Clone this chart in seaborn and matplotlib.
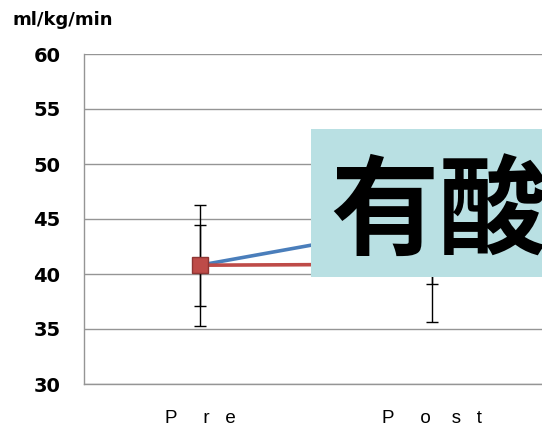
import matplotlib
matplotlib.use("Agg")
import matplotlib.pyplot as plt
from matplotlib.patches import Rectangle
from matplotlib.ticker import FixedLocator
import pandas as pd
import seaborn as sns

# Measurement phases and their display labels
phases = ["Pre", "Post"]
phase_labels = ["P     r   e", "P     o    s   t"]
y_ticks = [30, 35, 40, 45, 50, 55, 60]

# VO2 (ml/kg/min): mean and SD per group
aerobic_mean = [40.8, 44.6]
aerobic_sd = [3.7, 5.5]
control_mean = [40.8, 40.9]
control_sd = [5.5, 5.25]

groups = ["aerobic", "control"]
colors = {"aerobic": "#4A7EBB", "control": "#BE4B48"}
edge_colors = {"aerobic": "#2E5A8C", "control": "#8E3533"}
marker_sizes = {"aerobic": 8, "control": 11}

df = pd.DataFrame({
    "pos": list(range(len(phases))) * 2,
    "phase": phases * 2,
    "group": [groups[0]] * len(phases) + [groups[1]] * len(phases),
    "value": aerobic_mean + control_mean,
    "sd": aerobic_sd + control_sd,
})

sns.set_style("white")
plt.rcParams["font.family"] = ["DejaVu Sans"]
plt.rcParams["text.color"] = "black"
plt.rcParams["xtick.color"] = "black"
plt.rcParams["ytick.color"] = "black"

W, H = 542, 432
fig = plt.figure(figsize=(W / 100, H / 100), dpi=100)
ax = fig.add_axes([84 / W, 1 - 384 / H, (548 - 84) / W, (384 - 54) / H])

grid_gray = "#959595"

sns.lineplot(data=df, x="pos", y="value", hue="group", style="group",
             hue_order=groups, style_order=groups, palette=colors,
             markers={"aerobic": "D", "control": "s"}, dashes=False,
             linewidth=2.6, markersize=11, markeredgewidth=1.0,
             legend=False, ax=ax)
for i, (line, g) in enumerate(zip(list(ax.lines), groups)):
    line.set_markerfacecolor(colors[g])
    line.set_markeredgecolor(edge_colors[g])
    line.set_markersize(marker_sizes[g])
    line.set_zorder(5 + i)

# SD error bars, drawn beneath the markers
for g in groups:
    sub = df[df["group"] == g]
    ax.errorbar(sub["pos"], sub["value"], yerr=sub["sd"], fmt="none",
                ecolor="black", elinewidth=1.0, capsize=4, capthick=1.0, zorder=3)

ax.set_xlim(-0.5, 1.5)
ax.set_ylim(30, 60)
ax.set_yticks(y_ticks, labels=[str(v) for v in y_ticks],
              fontweight="bold", fontsize=14)
ax.set_xticks(range(len(phases)), labels=phase_labels,
              fontfamily="Liberation Sans", fontsize=13.5)
ax.xaxis.set_minor_locator(FixedLocator([-0.5, 0.5, 1.5]))
ax.set_xlabel("")
ax.set_ylabel("")

ax.grid(axis="y", color=grid_gray, linewidth=1.0)
ax.grid(axis="x", visible=False)
ax.set_axisbelow(True)
for side in ["top", "right"]:
    ax.spines[side].set_visible(False)
for side in ["left", "bottom"]:
    ax.spines[side].set_color(grid_gray)
    ax.spines[side].set_linewidth(1.0)

ax.tick_params(axis="y", which="major", direction="out", length=6, width=0.8,
               color=grid_gray, labelcolor="black", pad=11)
ax.tick_params(axis="x", which="major", length=0, pad=19, labelcolor="black")
ax.tick_params(axis="x", which="minor", direction="out", length=6, width=0.8,
               color=grid_gray)

fig.text(12 / W, 1 - 20 / H, "ml/kg/min", fontsize=13, fontweight="bold",
         va="center", ha="left", color="black")

# title card overlapping the plot
fig.add_artist(Rectangle((311 / W, 1 - 277 / H), (560 - 311) / W, (277 - 129) / H,
                         transform=fig.transFigure, facecolor="#B9E0E3",
                         edgecolor="none", zorder=10))
fig.text(330 / W, 1 - 246 / H, "有酸", fontsize=78, fontweight="bold",
         fontfamily=["Noto Sans CJK JP"], color="black",
         va="baseline", ha="left", zorder=11)

fig.savefig("out.png", dpi=100)
